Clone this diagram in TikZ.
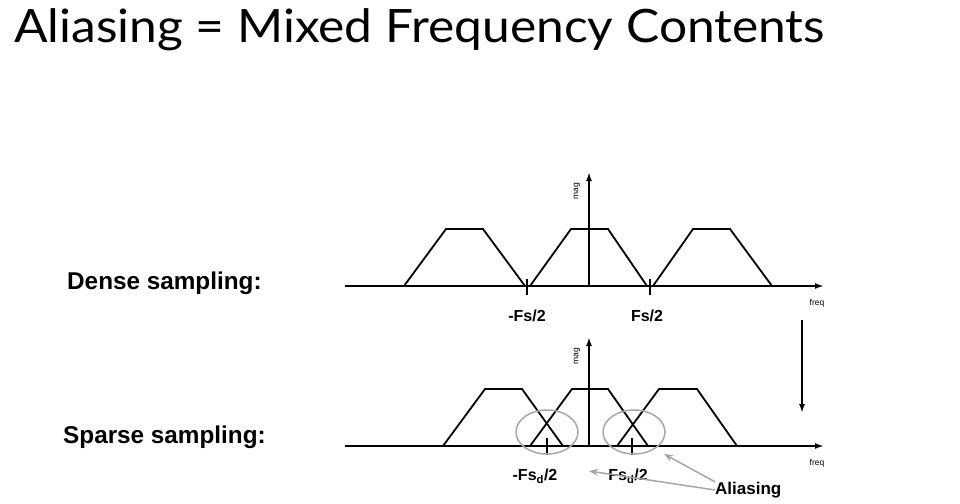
\documentclass[tikz,border=0pt]{standalone}
\usepackage{fontspec}
\setmainfont{Liberation Sans}
\newfontfamily\titlefont{Lato}
\usetikzlibrary{arrows.meta,shapes.geometric}
\begin{document}
\begin{tikzpicture}[x=1pt,y=-1pt,
  ax/.style={line width=1.8pt,-{Latex[length=9pt,width=6pt]}},
  tr/.style={line width=1.8pt,line join=miter},
  tickmark/.style={line width=1.8pt},
  lbl/.style={font=\bfseries\fontsize{16}{18}\selectfont,inner sep=0pt},
  side/.style={font=\bfseries\fontsize{24.3}{26}\selectfont,inner sep=0pt,anchor=west},
  small/.style={font=\fontsize{8.5}{9}\selectfont,inner sep=0pt},
  ring/.style={draw=gray!70,line width=1.5pt,ellipse,minimum width=62pt,minimum height=44pt,inner sep=0pt},
  pointer/.style={draw=gray!70,line width=1.5pt,-{Stealth[length=9pt,width=7pt]}}]
\useasboundingbox (0,0) rectangle (960,503);
% title
\node[anchor=base west,inner sep=0pt,xscale=1.08,font=\titlefont\fontsize{46}{50}\selectfont] (title) at (14,43) {Aliasing = Mixed Frequency Contents};
% side labels
\node[side] (dense) at (67,283) {Dense sampling:};
\node[side] (sparse) at (63,437) {Sparse sampling:};
% ---------- dense plot ----------
\coordinate (d0) at (345,286);
\coordinate (d1) at (824,286);
\coordinate (dv0) at (589,286);
\coordinate (dv1) at (589,172);
\draw[ax] (d0) -- (d1);
\draw[ax] (dv0) -- (dv1);
\node[small,rotate=90] (dmag) at (577,191) {mag};
\node[small] (dfreq) at (817,303) {freq};
\draw[tr] (404,286) -- (446,229) -- (483,229) -- (525,286);
\draw[tr] (530,286) -- (571,229) -- (608,229) -- (647,286);
\draw[tr] (653,286) -- (693,229) -- (730,229) -- (772,286);
\draw[tickmark] (527,279) -- (527,295);
\draw[tickmark] (650,279) -- (650,295);
\node[lbl] (dneg) at (527,316) {-Fs/2};
\node[lbl] (dpos) at (647,316) {Fs/2};
% down arrow
\coordinate (a0) at (802,320);
\coordinate (a1) at (802,413);
\draw[line width=1.8pt,-{Latex[length=9pt,width=6pt]}] (a0) -- (a1);
% ---------- sparse plot ----------
\coordinate (s0) at (345,446);
\coordinate (s1) at (824,446);
\coordinate (sv0) at (589,446);
\coordinate (sv1) at (589,337);
\draw[ax] (s0) -- (s1);
\draw[ax] (sv0) -- (sv1);
\node[small,rotate=90] (smag) at (577,356) {mag};
\node[small] (sfreq) at (817,463) {freq};
\draw[tr] (443,446) -- (485,389) -- (522,389) -- (563,446);
\draw[tr] (530,446) -- (572,389) -- (608,389) -- (648,446);
\draw[tr] (617,446) -- (659,389) -- (697,389) -- (737,446);
\draw[tickmark] (547,438) -- (547,455);
\draw[tickmark] (632,438) -- (632,455);
\node[ring] (lring) at (547,432) {};
\node[ring] (rring) at (634,432) {};
\node[lbl] (sneg) at (535,476) {-Fs\textsubscript{d}/2};
\node[lbl] (spos) at (628,476) {Fs\textsubscript{d}/2};
\node[lbl,anchor=west,font=\bfseries\fontsize{17}{18}\selectfont] (alias) at (715,490) {Aliasing};
\coordinate (rtip) at (664,454);
\coordinate (ltip) at (589,471);
\draw[pointer] (alias.north west) -- (rtip);
\draw[pointer] (alias.west) -- (ltip);
\end{tikzpicture}
\end{document}
